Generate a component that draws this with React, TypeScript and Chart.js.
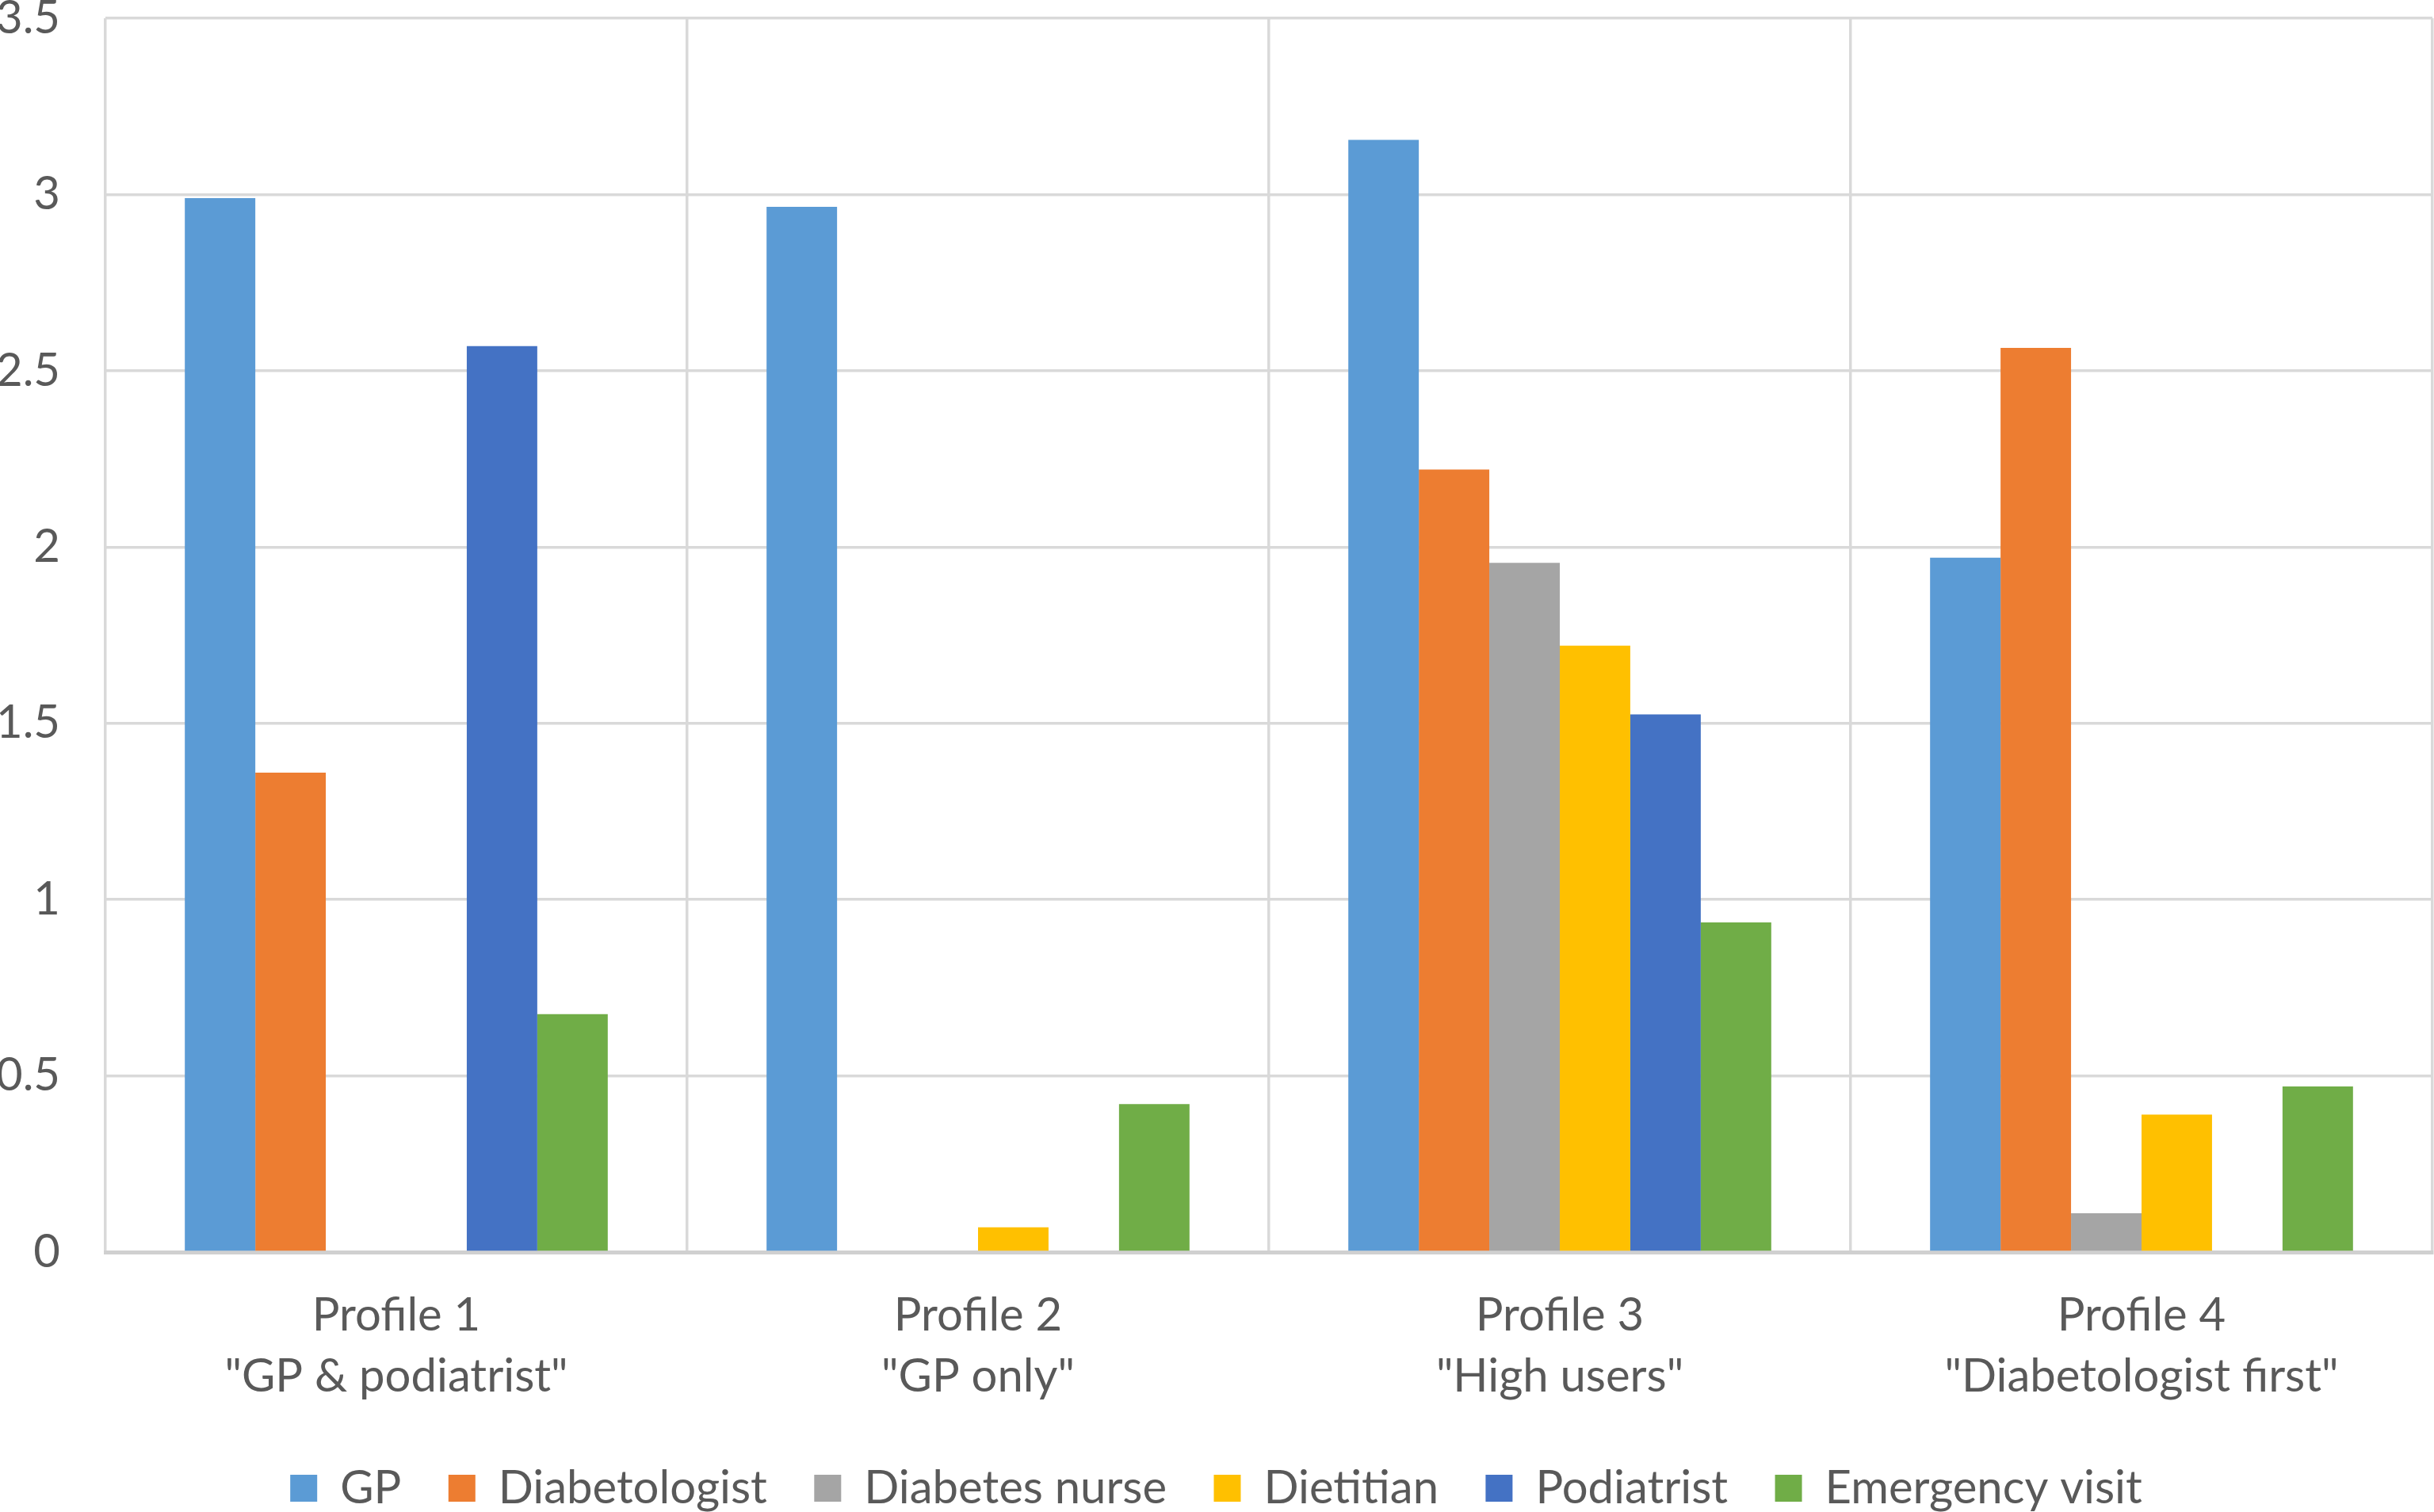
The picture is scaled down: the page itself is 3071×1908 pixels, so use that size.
import { useEffect, useRef } from 'react'
import { Chart, registerables } from 'chart.js'

Chart.register(...registerables)

const PROFILES = [
  ['Profile 1', '"GP & podiatrist"'],
  ['Profile 2', '"GP only"'],
  ['Profile 3', '"High users"'],
  ['Profile 4', '"Diabetologist first"'],
]

const SERIES_NAMES = ['GP', 'Diabetologist', 'Diabetes nurse', 'Dietitian', 'Podiatrist', 'Emergency visit']
const SERIES_COLORS = ['#5B9BD5', '#ED7D31', '#A5A5A5', '#FFC000', '#4472C4', '#70AD47']

const GP = [2.99, 2.965, 3.155, 1.97]
const DIABETOLOGIST = [1.36, 0, 2.22, 2.565]
const DIABETES_NURSE = [0, 0, 1.955, 0.11]
const DIETITIAN = [0, 0.07, 1.72, 0.39]
const PODIATRIST = [2.57, 0, 1.525, 0]
const EMERGENCY_VISIT = [0.675, 0.42, 0.935, 0.47]

const Y_MAX = 3.5
const Y_STEP = 0.5

const TEXT = '#595959'
const GRID = '#d9d9d9'
const FONT = 'Lato'
const FONT_SIZE = 58

export default function App() {
  const canvasRef = useRef<HTMLCanvasElement>(null)

  useEffect(() => {
    if (!canvasRef.current) return
    const values = [GP, DIABETOLOGIST, DIABETES_NURSE, DIETITIAN, PODIATRIST, EMERGENCY_VISIT]
    const chart = new Chart(canvasRef.current, {
      type: 'bar',
      data: {
        labels: PROFILES,
        datasets: SERIES_NAMES.map((name, i) => ({
          label: name,
          data: values[i],
          backgroundColor: SERIES_COLORS[i],
          borderWidth: 0,
          categoryPercentage: 0.727,
          barPercentage: 1,
        })),
      },
      options: {
        animation: false,
        responsive: true,
        maintainAspectRatio: false,
        events: [],
        layout: { padding: { left: 0, right: 2, top: 0, bottom: -9 } },
        plugins: {
          tooltip: { enabled: false },
          legend: {
            position: 'bottom',
            labels: {
              color: TEXT,
              font: { family: FONT, size: FONT_SIZE },
              boxWidth: 34,
              boxHeight: 34,
              padding: 0,
              // Excel leaves a wide gap between legend entries
              generateLabels: (c: Chart) =>
                Chart.defaults.plugins.legend.labels.generateLabels(c).map((item, i, arr) => ({
                  ...item,
                  text: i < arr.length - 1 ? item.text + '    ' : item.text,
                })),
            },
          },
        },
        scales: {
          x: {
            grid: { color: GRID, lineWidth: 3.5, drawTicks: false, offset: true },
            border: { color: '#d0d0d0', width: 5 },
            ticks: {
              color: TEXT,
              padding: 42,
              maxRotation: 0,
              autoSkip: false,
              font: { family: FONT, size: FONT_SIZE, lineHeight: 1.33 },
            },
            afterFit: (scale: any) => {
              scale.height = 269
            },
          },
          y: {
            min: 0,
            max: Y_MAX,
            grid: { color: GRID, lineWidth: 3.5, drawTicks: false },
            border: { display: false },
            ticks: {
              stepSize: Y_STEP,
              color: TEXT,
              padding: 57,
              font: { family: FONT, size: FONT_SIZE, lineHeight: 0.8 },
              callback: (v: number | string) => String(v),
            },
            afterFit: (scale: any) => {
              scale.width = 133
              scale.paddingTop = 23
              scale.paddingBottom = 0
            },
          },
        },
      },
    })
    return () => chart.destroy()
  }, [])

  return (
    <div style={{ position: 'fixed', left: 0, top: 0, width: 3071, height: 1908, background: '#fff' }}>
      <canvas ref={canvasRef} />
    </div>
  )
}
